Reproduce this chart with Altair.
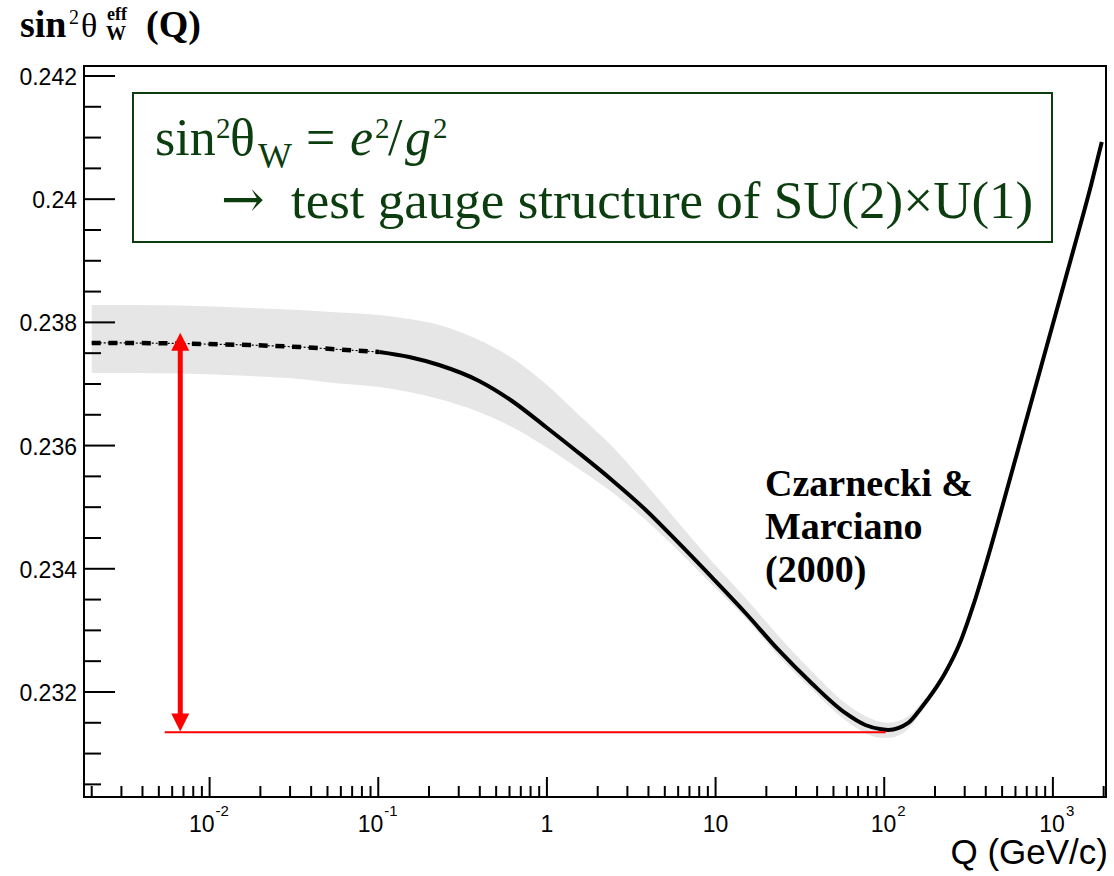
import altair as alt
import pandas as pd

# ---- running weak mixing angle (Czarnecki & Marciano 2000) ----
Q = [0.002, 0.00336, 0.00664, 0.01726, 0.0341, 0.0588, 0.1014, 0.1525, 0.2294,
     0.396, 0.621, 0.986, 1.546, 2.425, 3.855, 6.04, 9.46, 15.05, 23.6, 37.0,
     58.7, 77.2, 96.0, 105.6, 138.7, 165.6, 195.0, 229.6, 285.6, 336.3, 412.4,
     505.9, 620.8, 761.6, 934.1, 1146.0, 1406.0, 1679.0, 1950.0]
SIN2 = [0.237666, 0.237666, 0.237657, 0.237633, 0.237601, 0.237560, 0.237519,
        0.237438, 0.237308, 0.237049, 0.236724, 0.236302, 0.235880, 0.235442,
        0.234955, 0.234419, 0.233867, 0.233282, 0.232682, 0.232146, 0.231659,
        0.231464, 0.231395, 0.231383, 0.231497, 0.231740, 0.232000, 0.232308,
        0.232844, 0.233396, 0.234192, 0.235052, 0.235929, 0.236805, 0.237682,
        0.238558, 0.239435, 0.240214, 0.240929]
BAND_HI = [0.238283, 0.238283, 0.238274, 0.238234, 0.238202, 0.238161, 0.238120,
           0.238055, 0.237958, 0.237714, 0.237422, 0.237000, 0.236497, 0.235994,
           0.235377, 0.234744, 0.234127, 0.233526, 0.232909, 0.232341, 0.231821,
           0.231610, 0.231513, 0.231500, 0.231600, 0.231820, 0.232065, 0.232365,
           0.232890, 0.233435, 0.234225, 0.235085, 0.235962, 0.236838, 0.237715,
           0.238591, 0.239468, 0.240247, 0.240962]
BAND_LO = [0.237179, 0.237179, 0.237170, 0.237130, 0.237082, 0.237008, 0.236951,
           0.236870, 0.236756, 0.236545, 0.236302, 0.235977, 0.235620, 0.235247,
           0.234792, 0.234289, 0.233753, 0.233201, 0.232584, 0.232049, 0.231545,
           0.231334, 0.231253, 0.231255, 0.231400, 0.231675, 0.231935, 0.232255,
           0.232795, 0.233355, 0.234160, 0.235020, 0.235896, 0.236772, 0.237649,
           0.238525, 0.239402, 0.240181, 0.240896]
Q_SOLID_FROM = 0.1014          # below this the curve is drawn dash-dotted

# red double arrow and the level of the minimum
ARROW_Q = 0.0067
ARROW_TOP = 0.23783
ARROW_BOTTOM = 0.23136
HLINE_Q = [0.00542, 102.0]
HLINE_VALUE = 0.231346

# axes
X_MIN, X_MAX = 0.0018, 2065.0
Y_MIN, Y_MAX = 0.230295, 0.242162
Y_MAJOR = [0.232, 0.234, 0.236, 0.238, 0.240, 0.242]
Y_LABELS = ["0.232", "0.234", "0.236", "0.238", "0.24", "0.242"]
Y_MINOR = [k / 2000 for k in range(461, 485) if k % 4 != 0]
X_MAJOR = [0.01, 0.1, 1.0, 10.0, 100.0, 1000.0]
X_LABEL_BASE = ["10", "10", "1", "10", "10", "10"]
X_LABEL_EXP = ["-2", "-1", "", "", "2", "3"]
X_MINOR = [m * 10.0 ** e for e in range(-3, 4) for m in range(2, 10)
           if X_MIN <= m * 10.0 ** e <= X_MAX]

# ---- layout ----
LEFT, TOP = 84, 66
W, H = 1022, 731
GREEN = "#0b3d0f"
SANS = "Liberation Sans"
SERIF = "Liberation Serif"

xs = alt.Scale(type="log", domain=[X_MIN, X_MAX], nice=False)
ys = alt.Scale(domain=[Y_MIN, Y_MAX], nice=False, zero=False)


def X(field="q"):
    return alt.X(f"{field}:Q", scale=xs, axis=None)


def Y(field="v"):
    return alt.Y(f"{field}:Q", scale=ys, axis=None)


curve = pd.DataFrame({"q": Q, "v": SIN2, "lo": BAND_LO, "hi": BAND_HI})
dashed = curve[curve.q <= Q_SOLID_FROM]
solid = curve[curve.q >= Q_SOLID_FROM]

band = alt.Chart(curve).mark_area(color="#e6e6e6", interpolate="monotone").encode(
    x=X(), y=Y("lo"), y2="hi:Q")

thin = alt.Chart(dashed).mark_line(color="black", strokeWidth=1.2,
                                   strokeDash=[2, 2]).encode(x=X(), y=Y())
dashes = alt.Chart(dashed).mark_line(color="black", strokeWidth=4.5,
                                     strokeDash=[9, 7.7]).encode(x=X(), y=Y())
line = alt.Chart(solid).mark_line(color="black", strokeWidth=4,
                                  interpolate="monotone").encode(x=X(), y=Y())

hline = alt.Chart(pd.DataFrame({"q": [HLINE_Q[0]], "q2": [HLINE_Q[1]],
                                "v": [HLINE_VALUE]})).mark_rule(
    color="#ff0000", strokeWidth=2).encode(x=X(), x2="q2:Q", y=Y())

arrow_df = pd.DataFrame({"q": [ARROW_Q], "v": [ARROW_TOP], "v2": [ARROW_BOTTOM]})
shaft = alt.Chart(arrow_df).mark_rule(color="#ff0000", strokeWidth=5,
                                      yOffset=10, y2Offset=-10).encode(
    x=X(), y=Y(), y2="v2:Q")
head_up = alt.Chart(arrow_df).mark_point(
    shape="M 0 0 L 1 2 L -1 2 Z", size=324, filled=True, opacity=1,
    color="#ff0000").encode(x=X(), y=Y())
head_down = alt.Chart(arrow_df).mark_point(
    shape="M 0 0 L 1 -2 L -1 -2 Z", size=324, filled=True, opacity=1,
    color="#ff0000").encode(x=X(), y=Y("v2"))

# inward ticks
ytick_major = alt.Chart(pd.DataFrame({"v": Y_MAJOR})).mark_rule(
    color="black", strokeWidth=2).encode(y=Y(), x=alt.value(0), x2=alt.value(31))
ytick_minor = alt.Chart(pd.DataFrame({"v": Y_MINOR})).mark_rule(
    color="black", strokeWidth=2).encode(y=Y(), x=alt.value(0), x2=alt.value(17))
xtick_major = alt.Chart(pd.DataFrame({"q": X_MAJOR})).mark_rule(
    color="black", strokeWidth=2).encode(x=X(), y=alt.value(H), y2=alt.value(H - 20))
xtick_minor = alt.Chart(pd.DataFrame({"q": X_MINOR})).mark_rule(
    color="black", strokeWidth=2).encode(x=X(), y=alt.value(H), y2=alt.value(H - 11))

# tick labels
ylab = alt.Chart(pd.DataFrame({"v": Y_MAJOR, "t": Y_LABELS})).mark_text(
    align="right", baseline="middle", font=SANS, fontSize=23, color="black",
    dx=-7, dy=2).encode(y=Y(), x=alt.value(0), text="t:N")

xlab_df = pd.DataFrame({"q": X_MAJOR, "base": X_LABEL_BASE, "exp": X_LABEL_EXP})
xlab_df["kind"] = ["neg" if e.startswith("-") else ("pos" if e else "plain")
                   for e in X_LABEL_EXP]


def xlabels(kind, dx):
    sub = xlab_df[xlab_df.kind == kind]
    if kind == "plain":
        return [alt.Chart(sub).mark_text(
            align="center", baseline="alphabetic", font=SANS, fontSize=23,
            color="black").encode(x=X(), y=alt.value(H + 35), text="base:N")]
    base = alt.Chart(sub).mark_text(
        align="right", baseline="alphabetic", font=SANS, fontSize=23,
        color="black", dx=dx).encode(x=X(), y=alt.value(H + 35), text="base:N")
    exp = alt.Chart(sub).mark_text(
        align="left", baseline="alphabetic", font=SANS, fontSize=15,
        color="black", dx=dx + 1).encode(x=X(), y=alt.value(H + 19), text="exp:N")
    return [base, exp]


xlabel_layers = xlabels("plain", 0) + xlabels("neg", 5) + xlabels("pos", 12)


def text(s, x, y, size, font=SANS, weight="normal", style="normal",
         color="black", align="left"):
    """Annotation text placed at page coordinates (x, baseline y)."""
    return alt.Chart(pd.DataFrame({"t": [s]})).mark_text(
        align=align, baseline="alphabetic", font=font, fontSize=size,
        fontWeight=weight, fontStyle=style, color=color).encode(
        x=alt.value(x - LEFT), y=alt.value(y - TOP), text="t:N")


# axis titles
titles = [
    text("sin", 20, 37, 38, SERIF, "bold"),
    text("2", 69, 24, 20, SERIF),
    text("θ", 81, 37, 34, SERIF),
    text("eff", 107, 20, 18, SERIF, "bold"),
    text("W", 106, 40, 20, SERIF, "bold"),
    text("(Q)", 146, 37, 38, SERIF, "bold"),
    text("Q (GeV/c)", 1108, 864, 35, SANS, align="right"),
]

# framed statement
box = alt.Chart(pd.DataFrame({"a": [0]})).mark_rect(
    fill="white", stroke=GREEN, strokeWidth=2).encode(
    x=alt.value(133 - LEFT), x2=alt.value(1052 - LEFT),
    y=alt.value(93 - TOP), y2=alt.value(242 - TOP))
statement = [
    text("sin", 155, 155, 52, SERIF, color=GREEN),
    text("2", 216, 138, 29, SERIF, color=GREEN),
    text("θ", 230, 155, 52, SERIF, color=GREEN),
    text("W", 258, 168, 36, SERIF, color=GREEN),
    text("=", 306, 155, 52, SERIF, color=GREEN),
    text("e", 350, 155, 52, SERIF, style="italic", color=GREEN),
    text("2", 375, 138, 29, SERIF, color=GREEN),
    text("/", 388, 155, 52, SERIF, color=GREEN),
    text("g", 405, 155, 52, SERIF, style="italic", color=GREEN),
    text("2", 433, 138, 29, SERIF, color=GREEN),
    text("→", 221, 217, 52, "DejaVu Serif", color=GREEN),
    text("test gauge structure of SU(2)×U(1)", 291, 218, 53, SERIF, color=GREEN),
]

credit = [
    text("Czarnecki &", 765, 496, 38, SERIF, "bold"),
    text("Marciano", 765, 539, 38, SERIF, "bold"),
    text("(2000)", 765, 582, 38, SERIF, "bold"),
]

chart = alt.layer(
    band, thin, dashes, line, hline, shaft, head_up, head_down,
    ytick_major, ytick_minor, xtick_major, xtick_minor, ylab,
    *xlabel_layers, *titles, box, *statement, *credit,
).properties(
    width=W, height=H,
    autosize=alt.AutoSizeParams(type="none"),
    padding={"left": LEFT, "top": TOP, "right": 1114 - LEFT - W, "bottom": 876 - TOP - H},
    background="white",
).configure_view(stroke="black", strokeWidth=2)

chart.save("out.html", embed_options={"renderer": "svg", "actions": False})
